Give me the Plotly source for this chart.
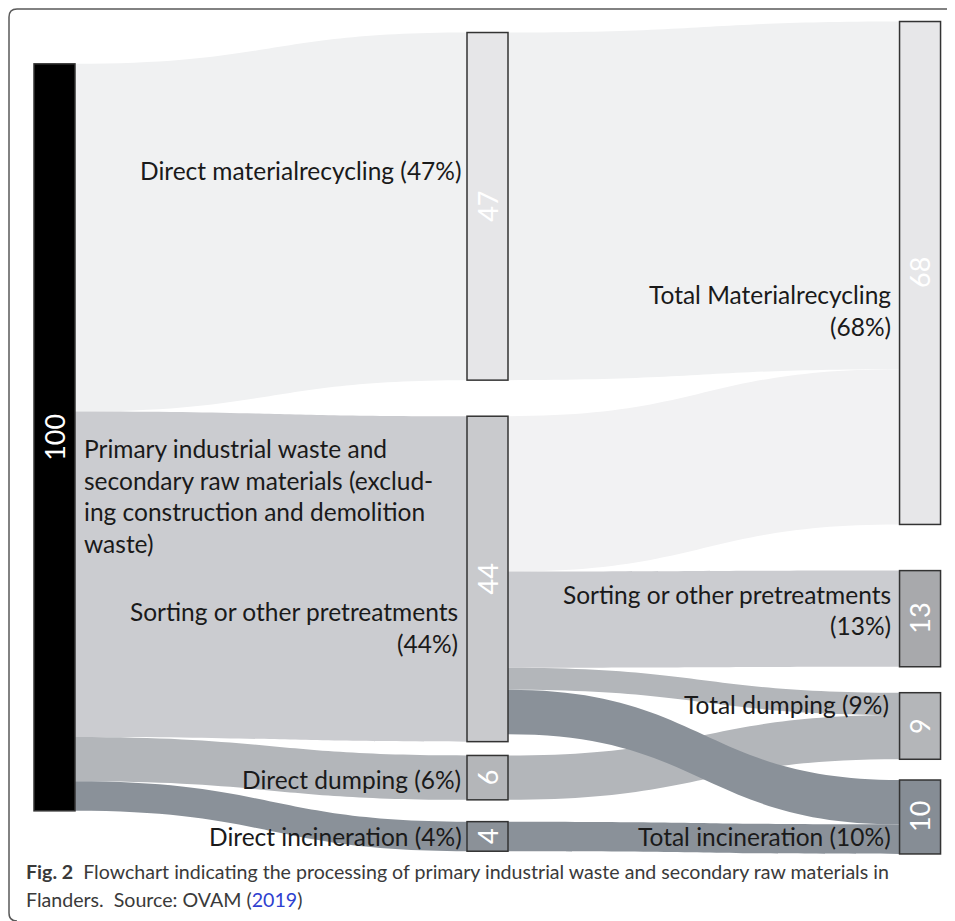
import plotly.graph_objects as go

# The page body has an 8px margin, so the figure is laid out 8px smaller
OFF = 8
W_PX, H_PX = 955 - OFF, 921 - OFF

# ---- data ----
node_values = ["100", "47", "44", "6", "4", "68", "13", "9", "10"]
node_colors = ["#000000", "#e6e6e8", "#c9cacd", "#b4b6b9", "#8b9198",
               "#e7e7e9", "#a8a9ac", "#b4b6b9", "#868d95"]
node_x = [0.0226, 0.5, 0.5, 0.5, 0.5, 0.9769, 0.9769, 0.9769, 0.9769]
node_y = [0.498, 0.219, 0.669, 0.909, 0.980, 0.2995, 0.717, 0.8466, 0.9565]

link_source = [0, 0, 0, 0, 1, 2, 2, 2, 3, 4, 2]
link_target = [1, 2, 3, 4, 5, 5, 6, 7, 7, 8, 8]
link_value = [47, 44, 6, 4, 47, 21, 13, 3, 6, 4, 6]
link_colors = ["#f0f1f2", "#cbccd0", "#b3b6ba", "#8a9199", "#f0f1f2",
               "#f2f2f3", "#cbccd0", "#b3b6ba", "#b3b6ba", "#8a9199", "#8a9199"]

# sankey domain in screen pixels
L, R, T, B = 34, 941, 25, 853


def fx(p):
    return (p - OFF) / W_PX


def fy(p):
    return 1 - (p - OFF) / H_PX


fig = go.Figure(go.Sankey(
    arrangement="fixed",
    domain=dict(x=[fx(L), fx(R)], y=[fy(B), fy(T)]),
    node=dict(
        label=[""] * len(node_values),
        x=node_x, y=node_y,
        color=node_colors,
        thickness=41, pad=27,
        line=dict(color="#333333", width=1.5),
    ),
    link=dict(source=link_source, target=link_target, value=link_value,
              color=link_colors),
    hoverinfo="none",
))

FONT = "Lato"
TXT = "#1a1a1a"
ann = []

# numbers inside nodes
for v, x, y in zip(node_values, node_x, node_y):
    cx = L + x * (R - L)
    cy = T + y * (B - T)
    ann.append(dict(x=fx(cx), y=fy(cy), text=v, textangle=-90, showarrow=False,
                    xref="paper", yref="paper", xanchor="center", yanchor="middle",
                    font=dict(family=FONT, size=27, color="#ffffff")))

labels = [
    ("Direct materialrecycling (47%)", 463, 170, "right"),
    ("Primary industrial waste and", 82, 448, "left"),
    ("secondary raw materials (exclud-", 82, 480, "left"),
    ("ing construction and demolition", 82, 511, "left"),
    ("waste)", 82, 543, "left"),
    ("Sorting or other pretreatments", 460, 611, "right"),
    ("(44%)", 460, 643, "right"),
    ("Direct dumping (6%)", 463, 779, "right"),
    ("Direct incineration (4%)", 464, 836, "right"),
    ("Total Materialrecycling", 893, 295, "right"),
    ("(68%)", 893, 326, "right"),
    ("Sorting or other pretreatments", 893, 594, "right"),
    ("(13%)", 893, 625, "right"),
    ("Total dumping (9%)", 891, 704, "right"),
    ("Total incineration (10%)", 893, 836, "right"),
]
for text, x, y, anchor in labels:
    ann.append(dict(x=fx(x), y=fy(y), text=text, showarrow=False,
                    xref="paper", yref="paper", xanchor=anchor, yanchor="middle",
                    font=dict(family=FONT, size=24.5, color=TXT)))

# caption
ann.append(dict(x=fx(24), y=fy(871),
                text="<b>Fig. 2</b>  Flowchart indicating the processing of primary industrial waste and secondary raw materials in",
                showarrow=False, xref="paper", yref="paper", xanchor="left", yanchor="middle",
                font=dict(family=FONT, size=19.6, color="#3a3a3a")))
ann.append(dict(x=fx(24), y=fy(899),
                text="Flanders.  Source: OVAM (<span style='color:#2f3fd0'>2019</span>)",
                showarrow=False, xref="paper", yref="paper", xanchor="left", yanchor="middle",
                font=dict(family=FONT, size=19.6, color="#3a3a3a")))

border = (f"M {fx(960)},{fy(9)} L {fx(17)},{fy(9)} Q {fx(9)},{fy(9)} {fx(9)},{fy(17)} "
          f"L {fx(9)},{fy(913)} Q {fx(9)},{fy(921)} {fx(17)},{fy(921)}")

fig.update_layout(
    width=W_PX, height=H_PX,
    margin=dict(l=0, r=0, t=0, b=0),
    paper_bgcolor="#ffffff",
    annotations=ann,
    shapes=[dict(type="path", path=border, xref="paper", yref="paper",
                 line=dict(color="#5a5a5a", width=1.5))],
    font=dict(family=FONT),
)

fig.write_html("out.html")
